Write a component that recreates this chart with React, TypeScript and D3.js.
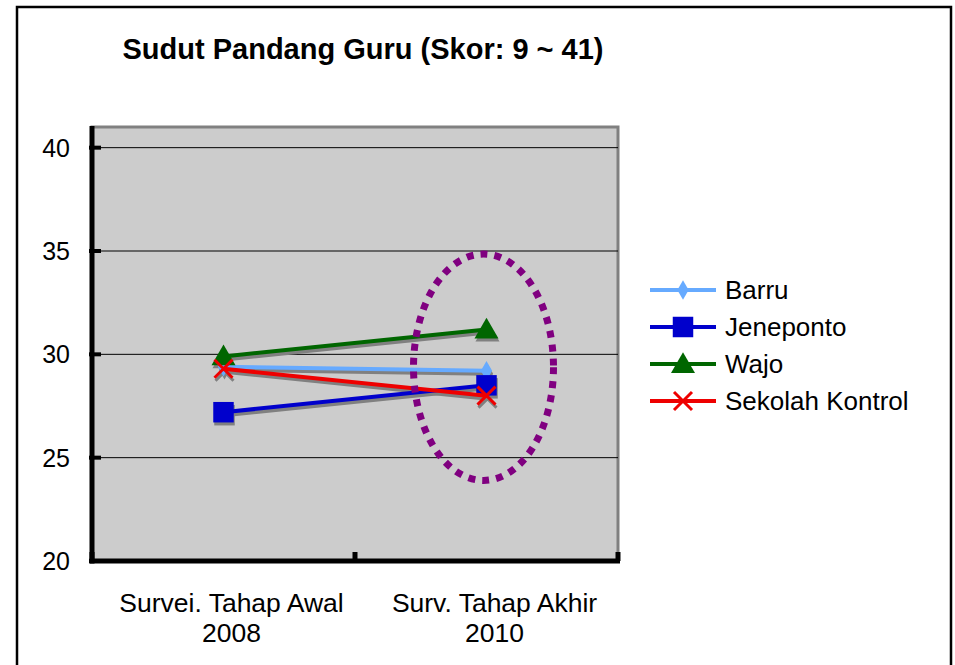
import React, {useEffect, useRef} from "react";
import {line, scaleBand, scaleLinear, select, symbol, symbolDiamond, symbolSquare, symbolTriangle} from "d3";

// chart data
const categories = ["Survei. Tahap Awal|2008", "Surv. Tahap Akhir|2010"];
const seriesNames = ["Barru", "Jeneponto", "Wajo", "Sekolah Kontrol"];
const barru = [29.4, 29.2];
const jeneponto = [27.2, 28.5];
const wajo = [29.9, 31.2];
const kontrol = [29.3, 28.0];
const yTicks = [20, 25, 30, 35, 40];

const colors = ["#66AAFF", "#0000CC", "#006600", "#EE0000"];
const markers = ["diamond", "square", "triangle", "x"];

const FONT = "Arial, 'Liberation Sans', sans-serif";

function App() {
    const svgRef = useRef();

    useEffect(() => {
        const svg = select(svgRef.current);
        svg.selectAll("*").remove();

        const left = 92, right = 618, top = 127, bottom = 561;

        const xScale = scaleBand()
            .domain(categories)
            .range([left, right]);

        const yScale = scaleLinear()
            .domain([20, 41])
            .range([bottom, top]);

        const allSeries = [barru, jeneponto, wajo, kontrol];

        // outer frame
        svg.append("rect")
            .attr("x", 17).attr("y", 7)
            .attr("width", 934).attr("height", 680)
            .attr("fill", "white")
            .attr("stroke", "#000")
            .attr("stroke-width", 2.5);

        // title
        svg.append("text")
            .attr("x", 363).attr("y", 59)
            .attr("text-anchor", "middle")
            .attr("font-family", FONT)
            .attr("font-weight", "bold")
            .attr("font-size", 29)
            .text("Sudut Pandang Guru (Skor: 9 ~ 41)");

        // plot area
        svg.append("rect")
            .attr("x", left).attr("y", top)
            .attr("width", right - left).attr("height", bottom - top)
            .attr("fill", "#CCCCCC")
            .attr("stroke", "#808080")
            .attr("stroke-width", 3);

        // grid lines
        svg.append("g")
            .selectAll("line")
            .data(yTicks.filter(d => d > 20))
            .join("line")
            .attr("x1", left).attr("x2", right)
            .attr("y1", d => yScale(d)).attr("y2", d => yScale(d))
            .attr("stroke", "#000")
            .attr("stroke-width", 1);

        // y axis
        svg.append("line")
            .attr("x1", left).attr("x2", left)
            .attr("y1", top - 1).attr("y2", bottom + 2.5)
            .attr("stroke", "#000").attr("stroke-width", 5);
        svg.append("g")
            .selectAll("line")
            .data(yTicks)
            .join("line")
            .attr("x1", left - 3).attr("x2", left + 9)
            .attr("y1", d => yScale(d)).attr("y2", d => yScale(d))
            .attr("stroke", "#000").attr("stroke-width", 4);
        svg.append("g")
            .selectAll("text")
            .data(yTicks)
            .join("text")
            .attr("x", 70)
            .attr("y", d => yScale(d))
            .attr("dy", "0.36em")
            .attr("text-anchor", "end")
            .attr("font-family", FONT)
            .attr("font-size", 25)
            .text(d => d);

        // x axis
        svg.append("line")
            .attr("x1", left - 2.5).attr("x2", right + 2)
            .attr("y1", bottom).attr("y2", bottom)
            .attr("stroke", "#000").attr("stroke-width", 5);
        const xTickPos = [left, left + xScale.bandwidth(), right];
        svg.append("g")
            .selectAll("line")
            .data(xTickPos)
            .join("line")
            .attr("x1", d => d).attr("x2", d => d)
            .attr("y1", bottom - 9).attr("y2", bottom)
            .attr("stroke", "#000").attr("stroke-width", 5);
        const xLabels = svg.append("g")
            .selectAll("text")
            .data(categories)
            .join("text")
            .attr("y", 612)
            .attr("text-anchor", "middle")
            .attr("font-family", FONT)
            .attr("font-size", 26.5);
        xLabels.selectAll("tspan")
            .data(d => d.split("|").map(t => ({t, c: d})))
            .join("tspan")
            .attr("x", d => xScale(d.c) + xScale.bandwidth() / 2 + 8)
            .attr("dy", (d, i) => i === 0 ? 0 : 30)
            .text(d => d.t);

        const cx = c => xScale(c) + xScale.bandwidth() / 2;
        const lineGen = line()
            .x((d, i) => cx(categories[i]))
            .y(d => yScale(d));

        const drawMarker = (g, type, x, y, color) => {
            if (type === "x") {
                const s = 9;
                g.append("path")
                    .attr("d", `M${x - s},${y - s}L${x + s},${y + s}M${x - s},${y + s}L${x + s},${y - s}`)
                    .attr("stroke", color).attr("stroke-width", 3).attr("fill", "none");
                return;
            }
            const sym = type === "diamond" ? symbolDiamond : type === "square" ? symbolSquare : symbolTriangle;
            const size = type === "diamond" ? 110 : type === "square" ? 420 : 250;
            g.append("path")
                .attr("d", symbol(sym, size)())
                .attr("transform", `translate(${x},${type === "triangle" ? y + 2 : y})`)
                .attr("fill", color);
        };

        // shadows
        const shadow = svg.append("g").attr("transform", "translate(1,3)");
        allSeries.forEach((vals, si) => {
            shadow.append("path")
                .attr("d", lineGen(vals))
                .attr("fill", "none")
                .attr("stroke", "#808080")
                .attr("stroke-width", 4);
            vals.forEach((v, i) => drawMarker(shadow, markers[si], cx(categories[i]), yScale(v), "#808080"));
        });

        // series
        allSeries.forEach((vals, si) => {
            const g = svg.append("g");
            g.append("path")
                .attr("d", lineGen(vals))
                .attr("fill", "none")
                .attr("stroke", colors[si])
                .attr("stroke-width", 4);
            vals.forEach((v, i) => drawMarker(g, markers[si], cx(categories[i]), yScale(v), colors[si]));
        });

        // dotted ellipse highlighting the final survey
        svg.append("ellipse")
            .attr("cx", cx(categories[1]) - 3)
            .attr("cy", (yScale(34.85) + yScale(23.9)) / 2)
            .attr("rx", 70)
            .attr("ry", (yScale(23.9) - yScale(34.85)) / 2)
            .attr("fill", "none")
            .attr("stroke", "#800080")
            .attr("stroke-width", 7)
            .attr("stroke-dasharray", "7 7");

        // legend
        const legend = svg.append("g")
            .selectAll("g")
            .data(seriesNames)
            .join("g")
            .attr("transform", (d, i) => `translate(650,${290 + i * 37})`);
        legend.append("line")
            .attr("x1", 0).attr("x2", 66)
            .attr("y1", 0).attr("y2", 0)
            .attr("stroke", (d, i) => colors[i])
            .attr("stroke-width", 4);
        legend.each(function (d, i) {
            drawMarker(select(this), markers[i], 33, 0, colors[i]);
        });
        legend.append("text")
            .attr("x", 75)
            .attr("y", 0)
            .attr("dy", "0.36em")
            .attr("font-family", FONT)
            .attr("font-size", 26)
            .text(d => d);
    }, []);

    return (
        <svg ref={svgRef} width={955} height={665}
             style={{position: "absolute", left: 0, top: 0, display: "block"}}/>
    );
}

export default App;
